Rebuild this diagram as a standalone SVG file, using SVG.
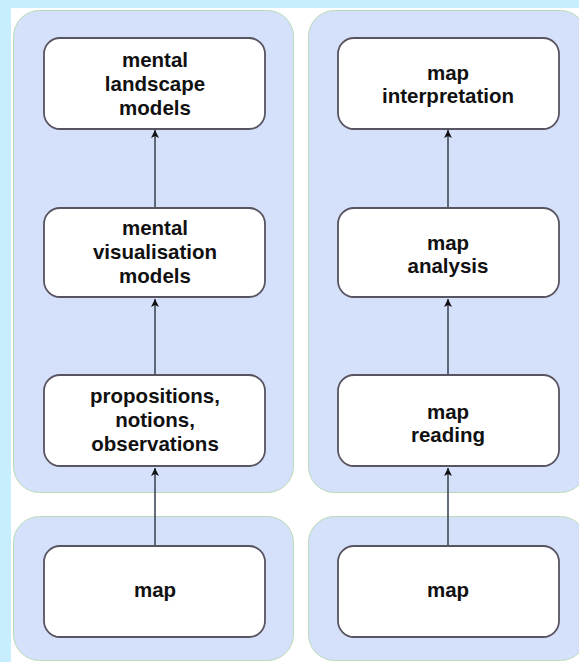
<svg xmlns="http://www.w3.org/2000/svg" width="579" height="662" viewBox="0 0 579 662">
<style>
.panel{fill:#d5e0fb;stroke:#b9dcb6;stroke-width:1}
.box{fill:#ffffff;stroke:#585460;stroke-width:1.8}
.lbl{font-family:"Liberation Sans",Arial,sans-serif;font-weight:bold;font-size:20.5px;fill:#111;text-anchor:middle}
.edge{stroke:#3e4a58;stroke-width:1.6;fill:none}
</style>
<defs>
<marker id="ah" viewBox="0 0 10 10" refX="10" refY="5" markerWidth="9" markerHeight="8" markerUnits="userSpaceOnUse" orient="auto">
<path d="M0,0 L10,5 L0,10 L2.5,5 z" fill="#111"/>
</marker>
</defs>
<rect x="0" y="0" width="579" height="662" fill="#c6eefd"/>
<rect x="11" y="8" width="568" height="654" fill="#ffffff"/>
<g id="panels">
<rect class="panel" x="13.5" y="10.5" width="280" height="482" rx="26"/>
<rect class="panel" x="13.5" y="516.5" width="280" height="144" rx="26"/>
<rect class="panel" x="308.5" y="10.5" width="278" height="482" rx="26"/>
<rect class="panel" x="308.5" y="516.5" width="278" height="144" rx="26"/>
</g>
<g id="connectors">
<line class="edge" x1="155" y1="546" x2="155" y2="468" marker-end="url(#ah)"/>
<line class="edge" x1="155" y1="375" x2="155" y2="299" marker-end="url(#ah)"/>
<line class="edge" x1="155" y1="208" x2="155" y2="130" marker-end="url(#ah)"/>
<line class="edge" x1="448" y1="546" x2="448" y2="468" marker-end="url(#ah)"/>
<line class="edge" x1="448" y1="375" x2="448" y2="299" marker-end="url(#ah)"/>
<line class="edge" x1="448" y1="208" x2="448" y2="130" marker-end="url(#ah)"/>
</g>
<g id="mental-landscape-models">
<rect class="box" x="44" y="38" width="221" height="91" rx="16"/>
<text class="lbl" x="155" y="67">mental</text>
<text class="lbl" x="155" y="91">landscape</text>
<text class="lbl" x="155" y="115">models</text>
</g>
<g id="mental-visualisation-models">
<rect class="box" x="44" y="208" width="221" height="89" rx="16"/>
<text class="lbl" x="155" y="235">mental</text>
<text class="lbl" x="155" y="259">visualisation</text>
<text class="lbl" x="155" y="283">models</text>
</g>
<g id="propositions">
<rect class="box" x="44" y="375" width="221" height="91" rx="16"/>
<text class="lbl" x="155" y="403">propositions,</text>
<text class="lbl" x="155" y="427">notions,</text>
<text class="lbl" x="155" y="451">observations</text>
</g>
<g id="map-left">
<rect class="box" x="44" y="546" width="221" height="91" rx="16"/>
<text class="lbl" x="155" y="597">map</text>
</g>
<g id="map-interpretation">
<rect class="box" x="338" y="38" width="221" height="91" rx="16"/>
<text class="lbl" x="448" y="80">map</text>
<text class="lbl" x="448" y="103">interpretation</text>
</g>
<g id="map-analysis">
<rect class="box" x="338" y="208" width="221" height="89" rx="16"/>
<text class="lbl" x="448" y="250">map</text>
<text class="lbl" x="448" y="273">analysis</text>
</g>
<g id="map-reading">
<rect class="box" x="338" y="375" width="221" height="91" rx="16"/>
<text class="lbl" x="448" y="419">map</text>
<text class="lbl" x="448" y="442">reading</text>
</g>
<g id="map-right">
<rect class="box" x="338" y="546" width="221" height="91" rx="16"/>
<text class="lbl" x="448" y="597">map</text>
</g>
</svg>
